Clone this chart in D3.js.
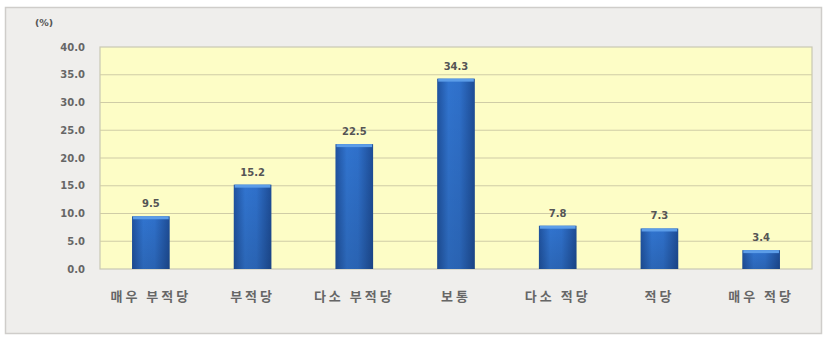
<!DOCTYPE html>
<html><head><meta charset="utf-8">
<script src="https://cdn.jsdelivr.net/npm/d3@7"></script>
<style>
body{margin:0;background:#fff;}
svg{display:block;font-family:"Noto Sans CJK KR","Noto Sans",sans-serif;}
</style></head><body>
<svg id="chart" width="826" height="342"></svg>
<script>
// Survey response categories and shares (%)
const categories = ["매우 부적당", "부적당", "다소 부적당", "보통", "다소 적당", "적당", "매우 적당"];
const values = [9.5, 15.2, 22.5, 34.3, 7.8, 7.3, 3.4];
const yTicks = [0, 5, 10, 15, 20, 25, 30, 35, 40];

const svg = d3.select("#chart");
const W = 826, H = 342;
const plot = {left: 100, right: 812, top: 47, bottom: 269};

// Outer panel
svg.append("rect").attr("x", 0).attr("y", 0).attr("width", W).attr("height", H).attr("fill", "#ffffff");
svg.append("rect").attr("x", 5.5).attr("y", 7.5).attr("width", 816).attr("height", 326)
  .attr("fill", "#efeeec").attr("stroke", "#cfcdca").attr("stroke-width", 1.5);

const defs = svg.append("defs");
const g = defs.append("linearGradient").attr("id", "barGrad").attr("x1", 0).attr("x2", 1).attr("y1", 0).attr("y2", 0);
g.append("stop").attr("offset", "0%").attr("stop-color", "#1f529f");
g.append("stop").attr("offset", "30%").attr("stop-color", "#3174cf");
g.append("stop").attr("offset", "60%").attr("stop-color", "#2f70ca");
g.append("stop").attr("offset", "100%").attr("stop-color", "#1d4c95");
const gv = defs.append("linearGradient").attr("id", "barShade").attr("x1", 0).attr("x2", 0).attr("y1", 0).attr("y2", 1);
gv.append("stop").attr("offset", "0%").attr("stop-color", "#000").attr("stop-opacity", 0);
gv.append("stop").attr("offset", "100%").attr("stop-color", "#000").attr("stop-opacity", 0.12);

const x = d3.scaleBand().domain(categories).range([plot.left, plot.right]).paddingInner(0.63).paddingOuter(0.315);
const y = d3.scaleLinear().domain([0, 40]).range([plot.bottom, plot.top]);

// Plot area
svg.append("rect").attr("x", plot.left).attr("y", plot.top)
  .attr("width", plot.right - plot.left).attr("height", plot.bottom - plot.top)
  .attr("fill", "#fdfdc6").attr("stroke", "#c9c8b4").attr("stroke-width", 1.2);

// Gridlines
svg.append("g").selectAll("line").data(yTicks.slice(1, -1)).join("line")
  .attr("x1", plot.left).attr("x2", plot.right)
  .attr("y1", d => y(d)).attr("y2", d => y(d))
  .attr("stroke", "#cfcca6").attr("stroke-width", 1.2);

// Y axis
const yAxis = svg.append("g").attr("transform", `translate(${plot.left - 12},0)`)
  .call(d3.axisLeft(y).tickValues(yTicks).tickFormat(d3.format(".1f")).tickSize(0));
yAxis.select(".domain").remove();
yAxis.selectAll("text").attr("fill", "#666").attr("font-size", 10).attr("font-weight", "bold")
  .attr("font-family", "DejaVu Sans, sans-serif");

svg.append("text").attr("x", 35).attr("y", 26).attr("fill", "#555").attr("font-size", 9.5)
  .attr("font-weight", "bold").attr("font-family", "DejaVu Sans, sans-serif").text("(%)");

// Bars
const bars = svg.append("g");
bars.selectAll("rect.bar").data(values).join("rect").attr("class", "bar")
  .attr("x", (d, i) => x(categories[i])).attr("width", x.bandwidth())
  .attr("y", d => y(d)).attr("height", d => y(0) - y(d))
  .attr("fill", "url(#barGrad)");
bars.selectAll("rect.shade").data(values).join("rect").attr("class", "shade")
  .attr("x", (d, i) => x(categories[i])).attr("width", x.bandwidth())
  .attr("y", d => y(d)).attr("height", d => y(0) - y(d))
  .attr("fill", "url(#barShade)");
bars.selectAll("rect.cap").data(values).join("rect").attr("class", "cap")
  .attr("x", (d, i) => x(categories[i]) + 1).attr("width", x.bandwidth() - 2)
  .attr("y", d => y(d)).attr("height", 3)
  .attr("fill", "#5c9de8");

// Value labels
svg.append("g").selectAll("text").data(values).join("text")
  .attr("x", (d, i) => x(categories[i]) + x.bandwidth() / 2)
  .attr("y", d => y(d) - 9)
  .attr("text-anchor", "middle").attr("fill", "#555").attr("font-size", 10).attr("font-weight", "bold")
  .attr("font-family", "DejaVu Sans, sans-serif")
  .text(d => d.toFixed(1));

// X axis labels
const xAxis = svg.append("g").attr("transform", `translate(0,${plot.bottom + 20})`)
  .call(d3.axisBottom(x).tickSize(0));
xAxis.select(".domain").remove();
xAxis.selectAll("text").attr("fill", "#666").attr("font-size", 13).attr("font-weight", "bold")
  .attr("font-family", "Noto Sans CJK KR, sans-serif").attr("letter-spacing", "3px");
</script>
</body></html>
